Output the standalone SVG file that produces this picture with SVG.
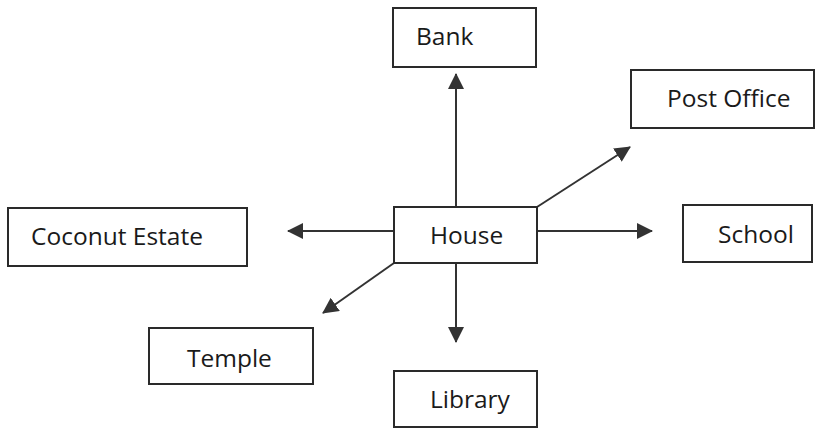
<svg xmlns="http://www.w3.org/2000/svg" width="817" height="428" viewBox="0 0 817 428">
  <style>
    .box { fill: #ffffff; stroke: #2a2a2a; stroke-width: 2; }
    .lbl { font-family: "Open Sans", "Noto Sans", "DejaVu Sans", sans-serif; font-size: 24.5px; fill: #1a1a1a; }
    .conn { stroke: #333333; stroke-width: 2; fill: none; }
  </style>
  <defs>
    <marker id="arrow" markerUnits="userSpaceOnUse" markerWidth="16" markerHeight="16" viewBox="0 0 16 16" refX="15" refY="8" orient="auto">
      <path d="M0,0 L16,8 L0,16 Z" fill="#333333"/>
    </marker>
  </defs>
  <rect x="0" y="0" width="817" height="428" fill="#ffffff"/>

  <g id="connectors">
    <line class="conn" x1="456" y1="207" x2="456" y2="74" marker-end="url(#arrow)"/>
    <line class="conn" x1="456" y1="263" x2="456" y2="342" marker-end="url(#arrow)"/>
    <line class="conn" x1="394" y1="231" x2="288" y2="231" marker-end="url(#arrow)"/>
    <line class="conn" x1="537" y1="231" x2="652" y2="231" marker-end="url(#arrow)"/>
    <line class="conn" x1="537" y1="207" x2="630" y2="147" marker-end="url(#arrow)"/>
    <line class="conn" x1="394" y1="263" x2="323" y2="313" marker-end="url(#arrow)"/>
  </g>

  <g id="bank">
    <rect class="box" x="393" y="8" width="143" height="59"/>
    <text class="lbl" x="416" y="45">Bank</text>
  </g>
  <g id="post-office">
    <rect class="box" x="631" y="70" width="183" height="58"/>
    <text class="lbl" x="667" y="107">Post Office</text>
  </g>
  <g id="coconut-estate">
    <rect class="box" x="8" y="208" width="239" height="58"/>
    <text class="lbl" x="31" y="245">Coconut Estate</text>
  </g>
  <g id="house">
    <rect class="box" x="394" y="207" width="143" height="56"/>
    <text class="lbl" x="430" y="244">House</text>
  </g>
  <g id="school">
    <rect class="box" x="683" y="205" width="129" height="57"/>
    <text class="lbl" x="718" y="243">School</text>
  </g>
  <g id="temple">
    <rect class="box" x="149" y="328" width="164" height="56"/>
    <text class="lbl" x="187" y="367">Temple</text>
  </g>
  <g id="library">
    <rect class="box" x="394" y="371" width="143" height="56"/>
    <text class="lbl" x="430" y="408">Library</text>
  </g>
</svg>
